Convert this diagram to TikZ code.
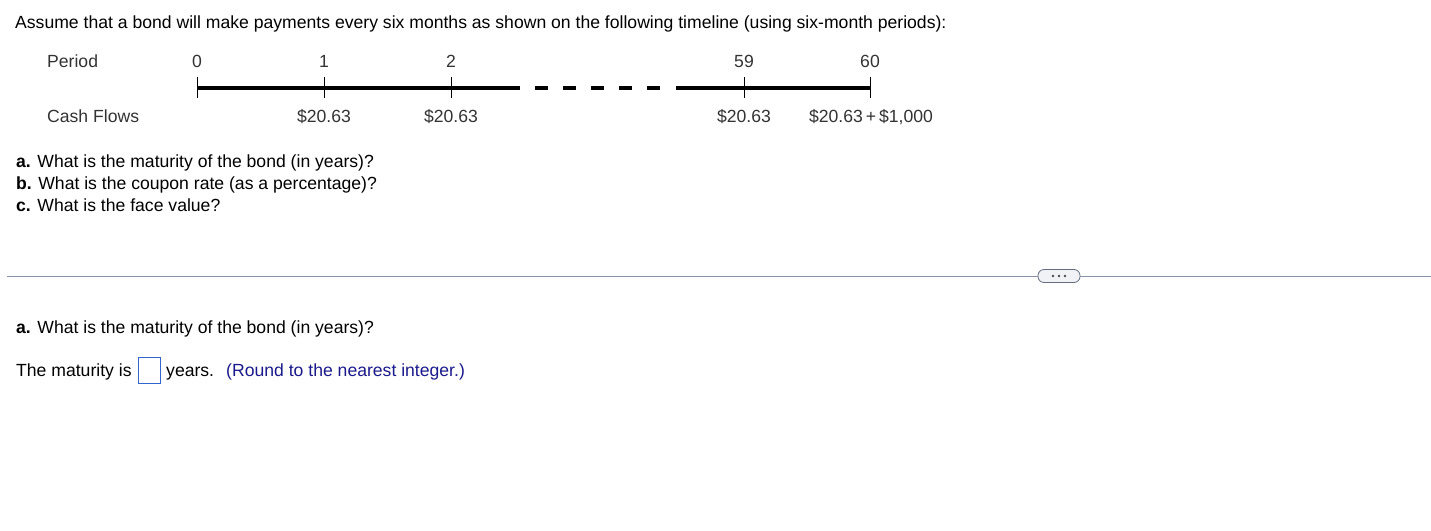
\documentclass[tikz,border=0pt]{standalone}
\usepackage{fontspec}
\setmainfont{Liberation Sans}
\begin{document}
\begin{tikzpicture}[x=1pt,y=-1pt,
  txt/.style={anchor=base west,inner sep=0pt,font=\fontsize{17.6}{21}\selectfont},
  tl/.style={anchor=base,inner sep=0pt,font=\fontsize{17.6}{21}\selectfont,text=black!80},
  tick/.style={line width=1pt},
  bar/.style={line width=4.5pt},
]
\useasboundingbox (0,0) rectangle (1431,530);
\fill[white] (0,0) rectangle (1431,530);
\node[txt] (intro) at (15,28) {Assume that a bond will make payments every six months as shown on the following timeline (using six-month periods):};
\node[txt,text=black!80] (period) at (47,67) {Period};
\node[txt,text=black!80] (cash) at (47,122) {Cash Flows};
% ticks
\foreach \n/\x in {t0/197,t1/324,t2/451,t59/744,t60/870}{
  \coordinate (\n) at (\x,88);
  \draw[tick] (\x,77) -- (\x,98);
}
\coordinate (s1) at (520,88);
\coordinate (d1) at (535,88);
\coordinate (d2) at (662,88);
\coordinate (s2) at (676,88);
\draw[bar] (t0) -- (s1);
\draw[bar,dash pattern=on 13pt off 15pt] (d1) -- (d2);
\draw[bar] (s2) -- (t60);
\node[tl] (p0) at (197,67) {0};
\node[tl] (p1) at (324,67) {1};
\node[tl] (p2) at (451,67) {2};
\node[tl] (p59) at (744,67) {59};
\node[tl] (p60) at (870,67) {60};
\node[tl] (c1) at (324,122) {\$20.63};
\node[tl] (c2) at (451,122) {\$20.63};
\node[tl] (c59) at (744,122) {\$20.63};
\node[tl] (c60) at (871,122) {\$20.63\,+\,\$1,000};
\node[txt] (qa) at (16,167) {\textbf{a.} What is the maturity of the bond (in years)?};
\node[txt] (qb) at (16,189) {\textbf{b.} What is the coupon rate (as a percentage)?};
\node[txt] (qc) at (16,211) {\textbf{c.} What is the face value?};
% separator
\coordinate (l0) at (7,276);
\coordinate (l1) at (1431,276);
\draw[color={rgb,255:red,136;green,145;blue,168},line width=0.8pt] (l0) -- (l1);
\node[draw={rgb,255:red,100;green,110;blue,130},fill={rgb,255:red,240;green,242;blue,245},rounded corners=6pt,minimum width=42pt,minimum height=13pt,inner sep=0pt,line width=0.8pt] (more) at (1059,276) {};
\foreach \dx in {-6,0,6} \fill[black!70] ([xshift=\dx pt]more.center) circle (1.3pt);
\node[txt] (qa2) at (16,333) {\textbf{a.} What is the maturity of the bond (in years)?};
\node[txt] (ans) at (16,376) {The maturity is};
\node[draw={rgb,255:red,51;green,102;blue,204},line width=0.9pt,minimum width=22pt,minimum height=26pt,inner sep=0pt] (box) at (149,370) {};
\node[txt] (yrs) at (166,376) {years.};
\node[txt,text={rgb,255:red,26;green,26;blue,140}] (round) at (226,376) {(Round to the nearest integer.)};
\end{tikzpicture}
\end{document}
